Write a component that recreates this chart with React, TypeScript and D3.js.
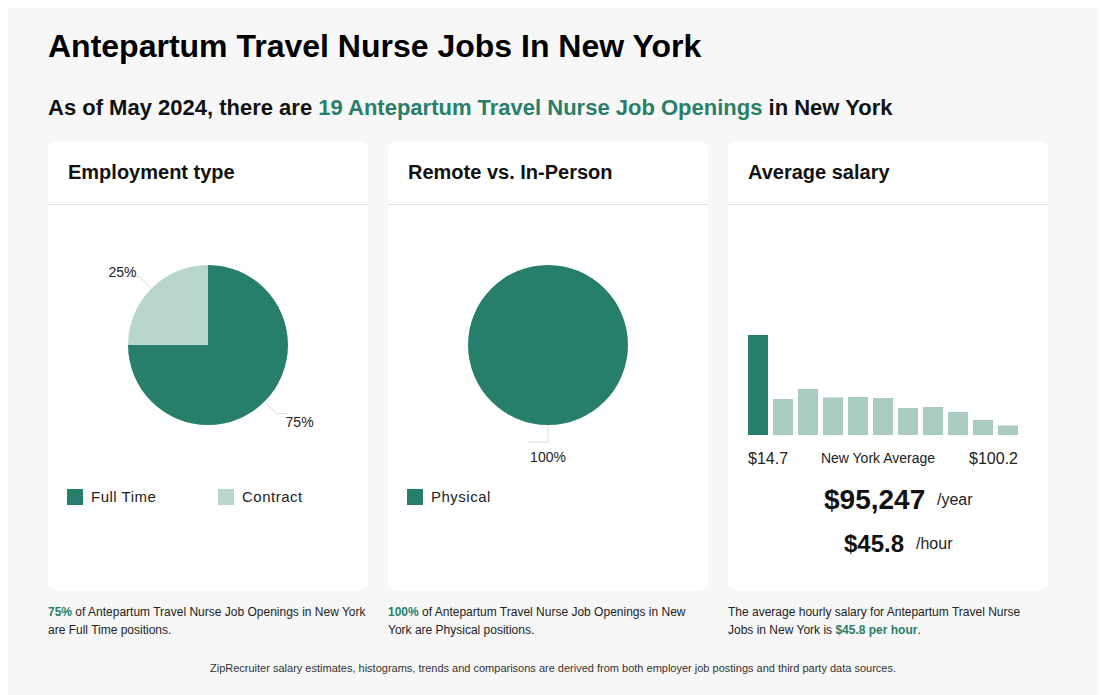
import React, { useEffect, useRef } from 'react';
import * as d3 from 'd3';

const employmentTypes = ['Full Time', 'Contract'];
const employmentShares = [75, 25];
const workplaceTypes = ['Physical'];
const workplaceShares = [100];
// histogram of hourly salaries, relative bar heights
const salaryBins = [100, 36, 46, 37.5, 38, 37, 27, 28, 23, 15, 9.5];
const salaryMin = '$14.7';
const salaryMax = '$100.2';
const yearlySalary = '$95,247';
const hourlySalary = '$45.8';

const DARK = '#277f6b';
const LIGHT = '#b9d6ce';
const BAR = '#a9cbc1';
const FONT = '"Liberation Sans", Arial, sans-serif';

const App: React.FC = () => {
  const svgRef = useRef<SVGSVGElement | null>(null);

  useEffect(() => {
    const svg = d3.select(svgRef.current);
    svg.selectAll('*').remove();
    svg.attr('width', 1110).attr('height', 695).style('font-family', FONT);

    svg.append('rect').attr('x', 8).attr('y', 8).attr('width', 1090).attr('height', 687).attr('fill', '#f7f7f7');

    svg.append('text').attr('x', 48).attr('y', 57).attr('font-size', 32).attr('font-weight', 'bold')
      .attr('fill', '#000').text('Antepartum Travel Nurse Jobs In New York');

    const sub = svg.append('text').attr('x', 48).attr('y', 115).attr('font-size', 22).attr('font-weight', 'bold').attr('fill', '#111');
    sub.append('tspan').text('As of May 2024, there are ');
    sub.append('tspan').attr('fill', DARK).text('19 Antepartum Travel Nurse Job Openings');
    sub.append('tspan').text(' in New York');

    const cardX = [48, 388, 728];
    const titles = ['Employment type', 'Remote vs. In-Person', 'Average salary'];
    cardX.forEach((x, i) => {
      svg.append('rect').attr('x', x).attr('y', 141).attr('width', 320).attr('height', 449).attr('rx', 7).attr('fill', '#fff');
      svg.append('line').attr('x1', x).attr('x2', x + 320).attr('y1', 204.5).attr('y2', 204.5).attr('stroke', '#e2e2e2');
      svg.append('text').attr('x', x + 20).attr('y', 179).attr('font-size', 20).attr('font-weight', 'bold').attr('fill', '#111').text(titles[i]);
    });

    const drawPie = (cx: number, names: string[], values: number[], colors: string[]) => {
      const r = 80;
      const g = svg.append('g').attr('transform', `translate(${cx},345)`);
      const pie = d3.pie<number>().sort(null).value((d) => d);
      const arcs = pie(values);
      const arc = d3.arc<d3.PieArcDatum<number>>().innerRadius(0).outerRadius(r);
      g.selectAll('path').data(arcs).enter().append('path').attr('d', arc).attr('fill', (_, i) => colors[i]);
      arcs.forEach((a) => {
        const mid = (a.startAngle + a.endAngle) / 2;
        const s = Math.sin(mid);
        const c = -Math.cos(mid);
        const x1 = s * r, y1 = c * r;
        const x2 = s * 97, y2 = c * 97;
        const dir = Math.abs(s) < 0.01 ? -1 : Math.sign(s);
        const len = Math.abs(s) < 0.01 ? 20 : dir > 0 ? 12 : 18;
        g.append('polyline').attr('points', `${x1},${y1} ${x2},${y2} ${x2 + dir * len},${y2}`)
          .attr('fill', 'none').attr('stroke', '#dcdcdc').attr('stroke-width', 1);
        const pct = `${Math.round(((a.endAngle - a.startAngle) / (2 * Math.PI)) * 100)}%`;
        let tx = x2, anchor = 'middle', ty = y2 + 20;
        if (Math.abs(s) >= 0.01) {
          anchor = s > 0 ? 'start' : 'end';
          tx = s > 0 ? x2 + 9 : x2 - 3;
          ty = c < 0 ? y2 + 1 : y2 + 13;
        }
        g.append('text').attr('x', tx).attr('y', ty).attr('text-anchor', anchor).attr('font-size', 14).attr('fill', '#222').text(pct);
      });
      names.forEach((n, i) => {
        const lx = cx - 141 + i * 151;
        svg.append('rect').attr('x', lx).attr('y', 489).attr('width', 16).attr('height', 16).attr('fill', colors[i]);
        svg.append('text').attr('x', lx + 24).attr('y', 502).attr('font-size', 15).attr('letter-spacing', 0.5)
          .attr('fill', '#222').text(n);
      });
    };
    drawPie(208, employmentTypes, employmentShares, [DARK, LIGHT]);
    drawPie(548, workplaceTypes, workplaceShares, [DARK]);

    // salary histogram
    const x = d3.scaleBand<number>().domain(salaryBins.map((_, i) => i)).range([748, 1018]).paddingInner(0.2).paddingOuter(0);
    const y = d3.scaleLinear().domain([0, 100]).range([435, 335]);
    svg.selectAll('rect.bin').data(salaryBins).enter().append('rect').attr('class', 'bin')
      .attr('x', (_, i) => x(i)!).attr('y', (d) => y(d)).attr('width', x.bandwidth()).attr('height', (d) => 435 - y(d))
      .attr('fill', (_, i) => (i === 0 ? DARK : BAR));

    svg.append('text').attr('x', 748).attr('y', 464).attr('font-size', 16).attr('fill', '#222').text(salaryMin);
    svg.append('text').attr('x', 1018).attr('y', 464).attr('font-size', 16).attr('text-anchor', 'end').attr('fill', '#222').text(salaryMax);
    svg.append('text').attr('x', 878).attr('y', 463).attr('font-size', 14).attr('text-anchor', 'middle').attr('fill', '#222').text('New York Average');

    svg.append('text').attr('x', 824).attr('y', 509).attr('font-size', 28).attr('font-weight', 'bold').attr('fill', '#111').text(yearlySalary);
    svg.append('text').attr('x', 937).attr('y', 505).attr('font-size', 16).attr('fill', '#222').text('/year');
    svg.append('text').attr('x', 844).attr('y', 552).attr('font-size', 24).attr('font-weight', 'bold').attr('fill', '#111').text(hourlySalary);
    svg.append('text').attr('x', 916).attr('y', 549).attr('font-size', 16).attr('fill', '#222').text('/hour');

    // notes under cards
    const note = (xPos: number, lines: { t: string; g?: boolean }[][]) => {
      lines.forEach((parts, li) => {
        const t = svg.append('text').attr('x', xPos).attr('y', 616 + li * 18).attr('font-size', 12).attr('fill', '#222');
        parts.forEach((p) => t.append('tspan').attr('fill', p.g ? DARK : '#222').attr('font-weight', p.g ? 'bold' : 'normal').text(p.t));
      });
    };
    note(48, [[{ t: `${employmentShares[0]}%`, g: true }, { t: ' of Antepartum Travel Nurse Job Openings in New York' }], [{ t: 'are Full Time positions.' }]]);
    note(388, [[{ t: `${workplaceShares[0]}%`, g: true }, { t: ' of Antepartum Travel Nurse Job Openings in New' }], [{ t: 'York are Physical positions.' }]]);
    note(728, [[{ t: 'The average hourly salary for Antepartum Travel Nurse' }], [{ t: 'Jobs in New York is ' }, { t: `${hourlySalary} per hour`, g: true }, { t: '.' }]]);

    svg.append('text').attr('x', 553).attr('y', 672).attr('font-size', 11).attr('text-anchor', 'middle').attr('fill', '#333')
      .text('ZipRecruiter salary estimates, histograms, trends and comparisons are derived from both employer job postings and third party data sources.');
  }, []);

  return <svg ref={svgRef} style={{ position: 'absolute', left: 0, top: 0 }}></svg>;
};

export default App;
